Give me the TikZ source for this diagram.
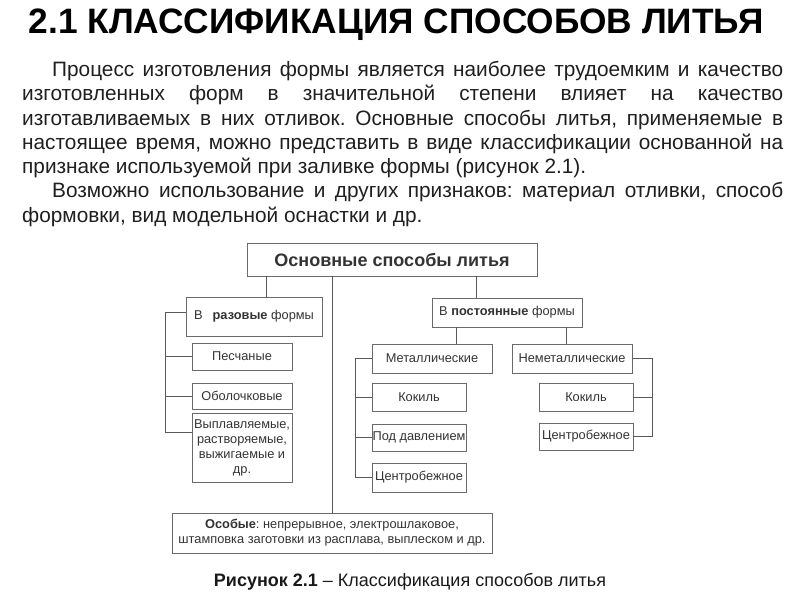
\documentclass[tikz,border=0pt]{standalone}
\usepackage{fontspec}
\setmainfont{Liberation Sans}
\definecolor{boxgray}{HTML}{6A6A6A}
\definecolor{linegray}{HTML}{5A5A5A}
\definecolor{textgray}{HTML}{333333}
\newcommand{\titlesize}{\fontsize{35.3}{40}\selectfont}
\newcommand{\bodysize}{\fontsize{20.8}{24.3}\selectfont}
\newcommand{\headsize}{\fontsize{18}{20}\selectfont}
\newcommand{\boxsize}{\fontsize{12.8}{15}\selectfont}
\newcommand{\capsize}{\fontsize{18}{21}\selectfont}
\frenchspacing
\begin{document}
\begin{tikzpicture}[x=1pt,y=-1pt,
    box/.style={draw=boxgray,line width=0.8pt,inner sep=0pt,
      font=\boxsize,text=textgray,align=center},
    link/.style={draw=linegray,line width=0.8pt}]
  \useasboundingbox (0,0) rectangle (800,600);
  % title and text
  \node[anchor=base,font=\titlesize\bfseries] (title) at (396,33)
    {2.1 КЛАССИФИКАЦИЯ СПОСОБОВ ЛИТЬЯ};
  \node[anchor=north west,inner sep=0pt,text width=761pt,
    align=justify,font=\bodysize,text=black!88] (body) at (22,61)
    {\hspace*{30pt}Процесс изготовления формы является наиболее
     трудоемким и качество\linebreak
     изготовленных форм в значительной степени влияет на
     качество\linebreak
     изготавливаемых в них отливок. Основные способы литья,
     применяемые в\linebreak
     настоящее время, можно представить в виде классификации
     основанной на\linebreak
     признаке используемой при заливке формы (рисунок 2.1).\par
     \hspace*{30pt}Возможно использование и других признаков:
     материал отливки, способ\linebreak
     формовки, вид модельной оснастки и др.\par};
  % boxes
  \node[box,minimum width=290,minimum height=33,font=\headsize]
    (main) at (392,259.5) {\textbf{Основные способы литья}};
  \node[box,minimum width=136,minimum height=39] (razov) at (254,316.5)
    {В\hspace{10pt}\textbf{разовые} формы};
  \node[box,minimum width=100,minimum height=27] (pesch) at (242,356.5)
    {Песчаные};
  \node[box,minimum width=100,minimum height=26] (obol) at (242,396)
    {Оболочковые};
  \node[box,minimum width=100,minimum height=69] (vypl) at (242,447.5)
    {Выплавляемые,\\растворяемые,\\выжигаемые и\\др.};
  \node[box,minimum width=150,minimum height=29] (postoyan) at (507,312.5)
    {В \textbf{постоянные} формы};
  \node[box,minimum width=120,minimum height=29] (metal) at (432,358.5)
    {Металлические};
  \node[box,minimum width=120,minimum height=29] (nemet) at (572,358.5)
    {Неметаллические};
  \node[box,minimum width=94,minimum height=28] (kokil1) at (419,397)
    {Кокиль};
  \node[box,minimum width=94,minimum height=27] (podd) at (419,437.5)
    {Под давлением};
  \node[box,minimum width=94,minimum height=29] (centr1) at (419,477.5)
    {Центробежное};
  \node[box,minimum width=94,minimum height=28] (kokil2) at (586,397)
    {Кокиль};
  \node[box,minimum width=94,minimum height=27] (centr2) at (586,436.5)
    {Центробежное};
  \node[box,minimum width=320,minimum height=40] (osob) at (332,533)
    {\textbf{Особые}: непрерывное, электрошлаковое,\\
     штамповка заготовки из расплава, выплеском и др.};
  \node[font=\capsize,text=black!90] (cap) at (410,582)
    {\textbf{Рисунок 2.1} -- Классификация способов литья};
  % links
  \coordinate (rbus) at (165,0);
  \coordinate (mbus) at (355,0);
  \coordinate (nbus) at (652,0);
  \draw[link] ([xshift=12pt]razov.north)
    -- ([xshift=12pt]razov.north |- main.south);
  \draw[link] (osob.north) -- (osob.north |- main.south);
  \draw[link] ([xshift=-31pt]postoyan.north)
    -- ([xshift=-31pt]postoyan.north |- main.south);
  \draw[link] ([xshift=24pt]metal.north)
    -- ([xshift=24pt]metal.north |- postoyan.south);
  \draw[link] ([xshift=-6pt]nemet.north)
    -- ([xshift=-6pt]nemet.north |- postoyan.south);
  \draw[link] ([yshift=4pt]razov.west) -- ([yshift=4pt]razov.west -| rbus)
    |- ([yshift=15.5pt]vypl.west);
  \foreach \n in {pesch,obol}
    \draw[link] (\n.west) -- (\n.west -| rbus);
  \draw[link] (metal.west) -- (metal.west -| mbus) |- (centr1.west);
  \foreach \n in {kokil1,podd}
    \draw[link] (\n.west) -- (\n.west -| mbus);
  \draw[link] (nemet.east) -- (nemet.east -| nbus) |- (centr2.east);
  \draw[link] (kokil2.east) -- (kokil2.east -| nbus);
\end{tikzpicture}
\end{document}
